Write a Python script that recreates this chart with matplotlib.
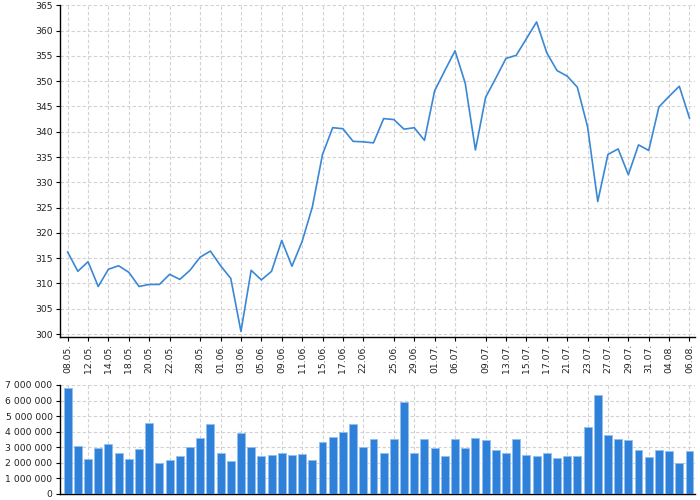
import matplotlib
matplotlib.use("Agg")
import matplotlib.pyplot as plt
from matplotlib.ticker import FuncFormatter

# trading days (dd.mm.)
dates = [
    "08.05.", "10.05.", "12.05.", "13.05.", "14.05.", "16.05.", "18.05.", "19.05.",
    "20.05.", "21.05.", "22.05.", "24.05.", "26.05.", "28.05.", "30.05.", "01.06.",
    "02.06.", "03.06.", "04.06.", "05.06.", "07.06.", "09.06.", "10.06.", "11.06.",
    "13.06.", "15.06.", "16.06.", "17.06.", "19.06.", "22.06.", "23.06.", "24.06.",
    "25.06.", "27.06.", "29.06.", "30.06.", "01.07.", "03.07.", "06.07.", "07.07.",
    "08.07.", "09.07.", "11.07.", "13.07.", "14.07.", "15.07.", "16.07.", "17.07.",
    "19.07.", "21.07.", "22.07.", "23.07.", "25.07.", "27.07.", "28.07.", "29.07.",
    "30.07.", "31.07.", "02.08.", "04.08.", "05.08.", "06.08.",
]

price = [
    316.2, 312.4, 314.3, 309.4, 312.8, 313.5, 312.2, 309.4, 309.8, 309.8,
    311.8, 310.8, 312.6, 315.2, 316.4, 313.5, 311.0, 300.5, 312.6, 310.7,
    312.4, 318.5, 313.4, 318.3, 325.1, 335.5, 340.8, 340.6, 338.1, 338.0,
    337.8, 342.6, 342.4, 340.5, 340.8, 338.3, 348.1, 352.1, 356.0, 349.6,
    336.4, 346.8, 350.6, 354.5, 355.1, 358.4, 361.7, 355.6, 352.1, 351.0,
    348.8, 341.0, 326.2, 335.5, 336.6, 331.5, 337.4, 336.3, 344.9, 347.0,
    349.0, 342.7,
]

volume = [
    6790000, 3050000, 2250000, 2940000, 3220000, 2640000, 2250000, 2900000,
    4570000, 1980000, 2190000, 2410000, 3010000, 3590000, 4510000, 2600000,
    2090000, 3930000, 2990000, 2430000, 2490000, 2620000, 2510000, 2580000,
    2190000, 3330000, 3630000, 3970000, 4470000, 2990000, 3540000, 2620000,
    3520000, 5900000, 2600000, 3520000, 2920000, 2430000, 3520000, 2920000,
    3570000, 3460000, 2790000, 2600000, 3520000, 2510000, 2430000, 2620000,
    2300000, 2450000, 2450000, 4290000, 6360000, 3760000, 3520000, 3430000,
    2830000, 2340000, 2830000, 2730000, 1960000, 2750000,
]

# which days get a label on the axis
tick_idx = [0, 2, 4, 6, 8, 10, 13, 15, 17, 19, 21, 23, 25, 27, 29, 32, 34,
            36, 38, 41, 43, 45, 47, 49, 51, 53, 55, 57, 59, 61]

line_color = "#3a87d6"
bar_color = "#2f80d8"
grid_kw = dict(color="#d2d2d2", linestyle=(0, (3, 2)), linewidth=0.8)

plt.rcParams["font.family"] = "DejaVu Sans"
plt.rcParams["font.size"] = 6.7

fig = plt.figure(figsize=(7, 5), dpi=100)
ax = fig.add_axes([0.085, 0.3254, 0.908, 0.664])
axv = fig.add_axes([0.085, 0.0126, 0.908, 0.2174])

x = list(range(len(dates)))
xlim = (-0.8, 61.55)

# price line
ax.plot(x, price, color=line_color, lw=1.2, zorder=3)
ax.set_xlim(*xlim)
ax.set_ylim(299.35, 365)
ax.set_yticks(range(300, 366, 5))
ax.set_xticks(tick_idx)
ax.set_xticklabels([dates[i] for i in tick_idx], rotation=90, va="top")
ax.grid(True, **grid_kw)
ax.set_axisbelow(True)

# volume bars
axv.bar(x, volume, width=0.78, color=bar_color, edgecolor="#93bfee",
        linewidth=0.6, zorder=3)
axv.set_xlim(*xlim)
axv.set_ylim(0, 7000000)
axv.set_yticks(range(0, 7000001, 1000000))
axv.yaxis.set_major_formatter(
    FuncFormatter(lambda v, _: f"{int(v):,}".replace(",", " ")))
axv.set_xticks(tick_idx)
axv.set_xticklabels([])
axv.tick_params(axis="x", length=0)
axv.grid(True, **grid_kw)
axv.set_axisbelow(True)

for a in (ax, axv):
    for s in ("top", "right"):
        a.spines[s].set_visible(False)
    a.spines["left"].set_linewidth(1.0)
    a.spines["bottom"].set_linewidth(1.0)
    a.tick_params(axis="both", length=3, width=0.8, pad=2,
                  labelsize=6.7, labelcolor="#222222")
axv.tick_params(axis="x", length=0)

fig.savefig("out.png", dpi=100)
